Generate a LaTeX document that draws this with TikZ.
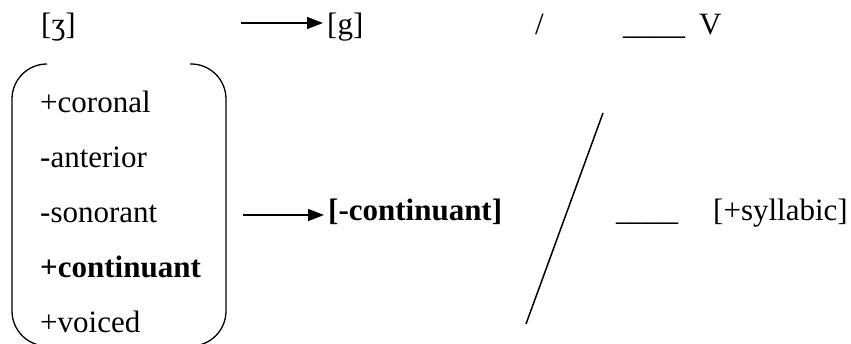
\documentclass[tikz,border=0pt]{standalone}
\usepackage{fontspec}
\setmainfont{Liberation Serif}
\usepackage{tikz}
\usetikzlibrary{arrows.meta,positioning}
\tikzset{
  seg/.style  = {inner sep=0pt, anchor=base west,
                 font=\fontsize{31}{37}\selectfont},
  feat/.style = {seg, text height=22pt, text depth=7pt},
  brk/.style  = {line width=1.3pt, rounded corners=35pt},
  arr/.style  = {-{Triangle[length=16pt,width=12pt]}, line width=1.5pt,
                 shorten >=4pt},
  env/.style  = {line width=1.5pt},
}

\begin{document}
\begin{tikzpicture}[x=1pt, y=1pt]
\useasboundingbox (0,0) rectangle (851,344);

%% Top line: the rule written with segments
\node[seg] (zh)   at (41,309)  {[ʒ]};
\node[seg] (g)    at (327,309) {[g]};
\node[seg] (sl)   at (535,309) {/};
\node[seg] (gap)  at (623,309) {\_\_\_\_};
\node[seg] (vow)  at (699,309) {V};

%% Feature matrix
\node[feat] (cor) at (40,231) {+coronal};
\node[feat, below=25.5pt of cor.south west, anchor=north west] (ant) {-anterior};
\node[feat, below=25.5pt of ant.south west, anchor=north west] (son) {-sonorant};
\node[feat, below=25.5pt of son.south west, anchor=north west] (cnt) {\textbf{+continuant}};
\node[feat, below=25.5pt of cnt.south west, anchor=north west] (voi) {+voiced};

\draw[brk] (47,280) -- (12,280) -- (12,-2) -- (47,-2);
\draw[brk] (190,280) -- (226,280) -- (226,-2) -- (190,-2);

%% Output and environment
\node[seg] (res)  at (328,123) {\textbf{[-continuant]}};
\node[seg] (gap2) at (616,123) {\_\_\_\_};
\node[seg] (syl)  at (713,123) {[+syllabic]};

\draw[env] (603,231) -- (526,20);

%% Arrows
\coordinate (a1) at (241,321);
\coordinate (a2) at (243,129);
\draw[arr] (a1) -- (a1 -| g.west);
\draw[arr] (a2) -- (a2 -| res.west);

\end{tikzpicture}
\end{document}
